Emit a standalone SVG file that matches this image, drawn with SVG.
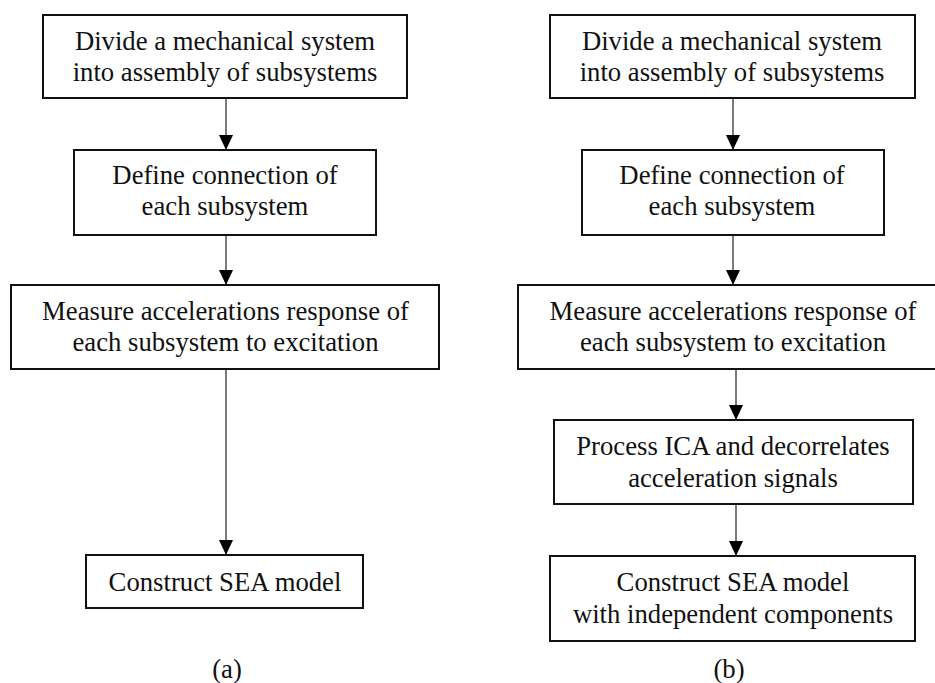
<svg xmlns="http://www.w3.org/2000/svg" width="935" height="683" viewBox="0 0 935 683">
<style>
.box{fill:#fff;stroke:#111;stroke-width:2}
.t{font-family:"Liberation Serif","Times New Roman",serif;font-size:26.7px;fill:#111;text-anchor:middle}
.c{stroke:#333;stroke-width:1.3;fill:none;marker-end:url(#ah)}
</style>
<defs>
<marker id="ah" markerUnits="userSpaceOnUse" markerWidth="16" markerHeight="16" viewBox="0 0 16 16" refX="15" refY="8" orient="auto">
<path d="M0,1 L15,8 L0,15 Z" fill="#000"/>
</marker>
</defs>
<rect width="935" height="683" fill="#fff"/>
<g id="connectors">
<line class="c" x1="226" y1="98" x2="226" y2="150"/>
<line class="c" x1="226" y1="235" x2="226" y2="285"/>
<line class="c" x1="226" y1="369" x2="226" y2="555"/>
<line class="c" x1="733" y1="98" x2="733" y2="150"/>
<line class="c" x1="733" y1="235" x2="733" y2="285"/>
<line class="c" x1="736" y1="369" x2="736" y2="420"/>
<line class="c" x1="736" y1="504" x2="736" y2="556"/>
</g>
<g id="a1"><rect class="box" x="43" y="15" width="364" height="83"/>
<text class="t" x="225" y="50">Divide a mechanical system</text>
<text class="t" x="225" y="81">into assembly of subsystems</text></g>
<g id="a2"><rect class="box" x="74" y="150" width="302" height="85"/>
<text class="t" x="225" y="184">Define connection of</text>
<text class="t" x="225" y="215">each subsystem</text></g>
<g id="a3"><rect class="box" x="11" y="285" width="428" height="84"/>
<text class="t" x="225.5" y="320">Measure accelerations response of</text>
<text class="t" x="225.5" y="351">each subsystem to excitation</text></g>
<g id="a4"><rect class="box" x="86" y="555" width="277" height="53"/>
<text class="t" x="225" y="591">Construct SEA model</text></g>
<g id="b1"><rect class="box" x="550" y="15" width="365" height="83"/>
<text class="t" x="732" y="50">Divide a mechanical system</text>
<text class="t" x="732" y="81">into assembly of subsystems</text></g>
<g id="b2"><rect class="box" x="582" y="150" width="302" height="85"/>
<text class="t" x="732" y="184">Define connection of</text>
<text class="t" x="732" y="215">each subsystem</text></g>
<g id="b3"><rect class="box" x="518" y="285" width="430" height="84"/>
<text class="t" x="733" y="320">Measure accelerations response of</text>
<text class="t" x="733" y="351">each subsystem to excitation</text></g>
<g id="b4"><rect class="box" x="554" y="420" width="359" height="84"/>
<text class="t" x="733" y="455">Process ICA and decorrelates</text>
<text class="t" x="733" y="487">acceleration signals</text></g>
<g id="b5"><rect class="box" x="550" y="556" width="365" height="85"/>
<text class="t" x="733" y="591">Construct SEA model</text>
<text class="t" x="733" y="623">with independent components</text></g>
<text class="t" x="227" y="678">(a)</text>
<text class="t" x="729" y="678">(b)</text>
</svg>
